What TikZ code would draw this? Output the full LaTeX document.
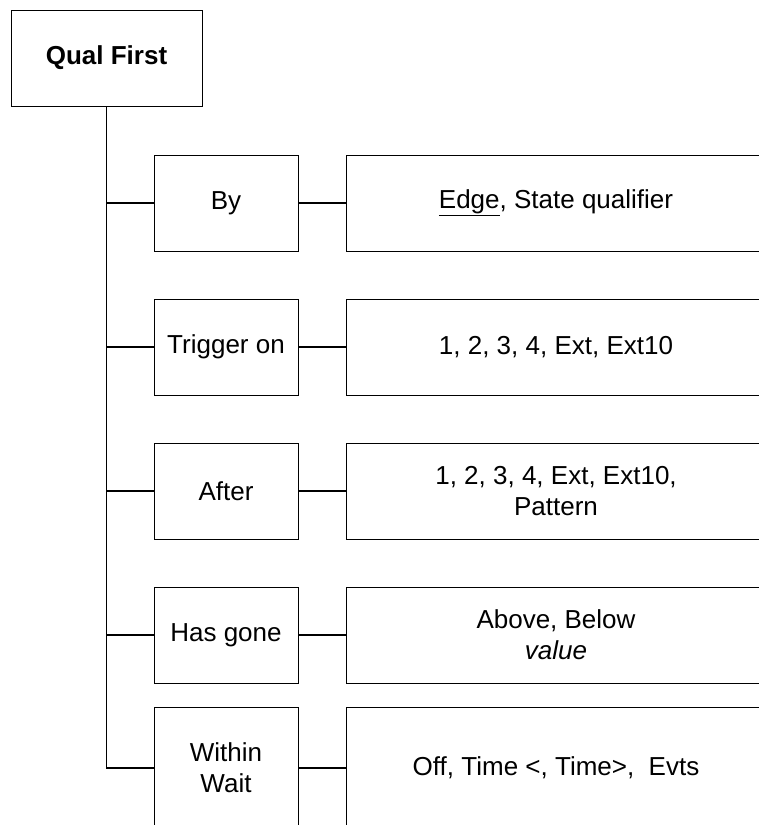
\documentclass[tikz,border=0pt]{standalone}
\usepackage{fontspec}
\setmainfont{Liberation Sans}
\usetikzlibrary{positioning}

\begin{document}
\begin{tikzpicture}[
    x=1pt, y=-1pt,
    node distance=47.2pt,
    every node/.style={font=\fontsize{26}{31}\selectfont},
    rootbox/.style={draw, line width=0.8pt, minimum width=191pt, minimum height=96pt, inner sep=0pt, font=\fontsize{26}{31}\selectfont\bfseries},
    menubox/.style={draw, line width=0.8pt, minimum width=144pt, minimum height=96pt, inner sep=0pt, align=center},
    optbox/.style={draw, line width=0.8pt, minimum width=420pt, minimum height=96pt, inner sep=0pt, align=center},
    link/.style={line width=1.6pt}
  ]
    \clip (0,0) rectangle (759,825);

    \node[rootbox] (root) at (106.5,58) {Qual First};

    \node[menubox] (by) at (226,203) {By};
    \node[menubox, below=of by] (trig) {Trigger on};
    \node[menubox, below=of trig] (after) {After};
    \node[menubox, below=of after] (gone) {Has gone};
    \node[menubox, below=23.2pt of gone, minimum height=122pt] (wait) {Within\\Wait};

    \node[optbox, right=of by] (byopt) {\underline{Edge}, State qualifier};
    \node[optbox, right=of trig] (trigopt) {1, 2, 3, 4, Ext, Ext10};
    \node[optbox, right=of after] (afteropt) {1, 2, 3, 4, Ext, Ext10,\\Pattern};
    \node[optbox, right=of gone] (goneopt) {Above, Below\\\textit{value}};
    \node[optbox, right=of wait, minimum height=122pt] (waitopt) {Off, Time <, Time>,\ \ Evts};

    \draw[link] (root.south) |- (wait.west);
    \foreach \b in {by, trig, after, gone}
      \draw[link] (root.south |- \b.west) -- (\b.west);
    \draw[link] (by) -- (byopt);
    \draw[link] (trig) -- (trigopt);
    \draw[link] (after) -- (afteropt);
    \draw[link] (gone) -- (goneopt);
    \draw[link] (wait) -- (waitopt);
  \end{tikzpicture}
\end{document}
